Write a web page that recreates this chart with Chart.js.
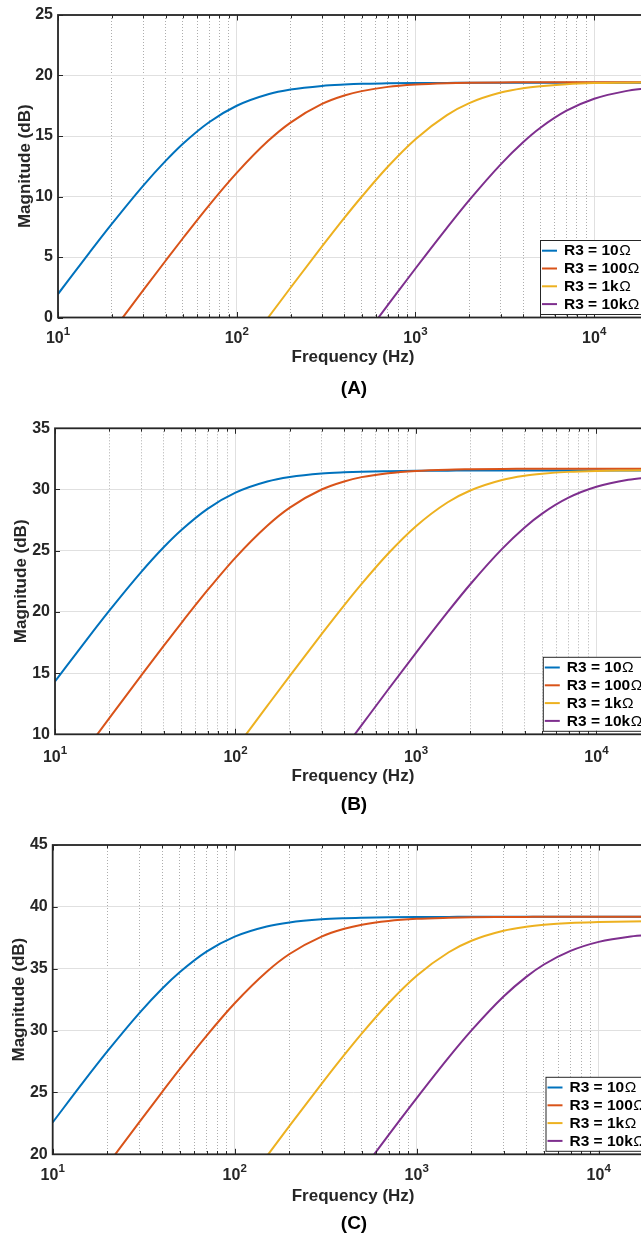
<!DOCTYPE html>
<html>
<head>
<meta charset="utf-8">
<script src="https://cdn.jsdelivr.net/npm/chart.js@4.4.1/dist/chart.umd.min.js"></script>
<style>
  html, body { margin: 0; padding: 0; background: #fff; width: 641px; height: 1238px; overflow: hidden; }
  .panel { position: absolute; left: 0; width: 660px; }
  .panel canvas { display: block; }
</style>
</head>
<body>
<div class="panel" style="top:0px;height:410px"><canvas id="chartA" width="660" height="410"></canvas></div>
<div class="panel" style="top:410px;height:410px"><canvas id="chartB" width="660" height="410"></canvas></div>
<div class="panel" style="top:820px;height:418px"><canvas id="chartC" width="660" height="418"></canvas></div>
<script>
// frequency grid (Hz) shared by every curve
const freqHz = [10, 15, 20, 30, 40, 50, 70, 100, 150, 200, 300, 400, 500, 700,
                1000, 1500, 2000, 3000, 4000, 5000, 7000, 10000, 15000, 20000];

// x ticks: decades get a label and a solid grid line, the rest are dotted
const xDecades = [10, 100, 1000, 10000];
const xMinorTicks = [20, 30, 40, 50, 60, 70, 80, 90, 200, 300, 400, 500, 600, 700, 800, 900,
                     2000, 3000, 4000, 5000, 6000, 7000, 8000, 9000, 20000];

const seriesLabels = ['R3 = 10Ω', 'R3 = 100Ω', 'R3 = 1kΩ', 'R3 = 10kΩ'];
const seriesColors = ['#0072BD', '#D95319', '#EDB120', '#7E2F8E'];

// (A) magnitude in dB
const magA_10 = [1.94, 5.36, 7.73, 10.90, 12.94, 14.36, 16.14, 17.50, 18.45, 18.84, 19.14, 19.25, 19.31, 19.35,
                 19.38, 19.39, 19.40, 19.40, 19.40, 19.40, 19.40, 19.40, 19.40, 19.40];
const magA_100 = [null, null, -1.22, 2.26, 4.69, 6.55, 9.27, 11.95, 14.60, 16.11, 17.65, 18.35, 18.71, 19.06,
                  19.25, 19.36, 19.40, 19.43, 19.44, 19.45, 19.45, 19.45, 19.45, 19.45];
const magA_1k = [null, null, null, null, null, null, null, -3.50, 0.00, 2.46, 5.87, 8.23, 9.98, 12.46,
                 14.74, 16.73, 17.72, 18.59, 18.95, 19.12, 19.28, 19.37, 19.41, 19.43];
const magA_10k = [null, null, null, null, null, null, null, null, null, null, null, null, -1.87, 1.02,
                  4.05, 7.41, 9.70, 12.66, 14.48, 15.68, 17.09, 18.08, 18.71, 18.96];

// (B)
const magB_10 = [14.32, 17.74, 20.10, 23.25, 25.28, 26.67, 28.42, 29.74, 30.65, 31.02, 31.31, 31.41, 31.46, 31.50,
                 31.53, 31.54, 31.55, 31.55, 31.55, 31.55, 31.55, 31.55, 31.55, 31.55];
const magB_100 = [null, 8.84, 11.32, 14.79, 17.22, 19.07, 21.77, 24.44, 27.04, 28.52, 30.00, 30.66, 31.01, 31.33,
                  31.52, 31.62, 31.65, 31.68, 31.69, 31.70, 31.70, 31.70, 31.70, 31.70];
const magB_1k = [null, null, null, null, null, null, null, 8.83, 12.32, 14.78, 18.19, 20.54, 22.29, 24.75,
                 27.00, 28.96, 29.92, 30.78, 31.12, 31.28, 31.44, 31.52, 31.56, 31.58];
const magB_10k = [null, null, null, null, null, null, null, null, null, null, null, 8.83, 10.75, 13.64,
                  16.66, 20.00, 22.26, 25.15, 26.90, 28.03, 29.33, 30.22, 30.79, 31.01];

// (C)
const magC_10 = [22.58, 25.99, 28.33, 31.43, 33.40, 34.73, 36.38, 37.59, 38.41, 38.74, 38.99, 39.08, 39.12, 39.16,
                 39.18, 39.19, 39.20, 39.20, 39.20, 39.20, 39.20, 39.20, 39.20, 39.20];
const magC_100 = [null, null, 19.16, 22.62, 25.05, 26.90, 29.58, 32.21, 34.76, 36.19, 37.60, 38.23, 38.56, 38.86,
                  39.03, 39.12, 39.16, 39.18, 39.19, 39.20, 39.20, 39.20, 39.20, 39.20];
const magC_1k = [null, null, null, null, null, null, null, 16.35, 19.84, 22.30, 25.70, 28.04, 29.78, 32.21,
                 34.43, 36.33, 37.26, 38.07, 38.39, 38.55, 38.70, 38.77, 38.82, 38.83];
const magC_10k = [null, null, null, null, null, null, null, null, null, null, null, null, 18.67, 21.55,
                  24.54, 27.83, 30.01, 32.75, 34.34, 35.34, 36.44, 37.17, 37.61, 37.78];

const yRangeA = [0, 25];
const yRangeB = [10, 35];
const yRangeC = [20, 45];
const captions = ['(A)', '(B)', '(C)'];

const FONT = '"Liberation Sans", Arial, Helvetica, sans-serif';
const INK = '#262626';

// draws the MATLAB style box, inward ticks, 10^n labels, legend and caption
const matlabFrame = {
  id: 'matlabFrame',
  afterDatasetsDraw(chart, args, opts) {
    const ctx = chart.ctx;
    const a = chart.chartArea;
    const xs = chart.scales.x, ys = chart.scales.y;
    ctx.save();

    // tick marks pointing inwards
    ctx.strokeStyle = INK;
    ctx.lineWidth = 1;
    ctx.beginPath();
    xDecades.concat(xMinorTicks).forEach(v => {
      const px = Math.round(xs.getPixelForValue(v)) + 0.5;
      const len = xDecades.includes(v) ? 5.5 : 3.3;
      ctx.moveTo(px, a.bottom); ctx.lineTo(px, a.bottom - len);
      ctx.moveTo(px, a.top); ctx.lineTo(px, a.top + len);
    });
    ys.ticks.forEach(t => {
      const py = Math.round(ys.getPixelForValue(t.value)) + 0.5;
      ctx.moveTo(a.left, py); ctx.lineTo(a.left + 5, py);
      ctx.moveTo(a.right, py); ctx.lineTo(a.right - 5, py);
    });
    ctx.stroke();

    // axes box
    ctx.lineWidth = 1.8;
    ctx.strokeRect(a.left, a.top, a.right - a.left, a.bottom - a.top);

    // decade labels 10^n
    ctx.fillStyle = INK;
    ctx.textBaseline = 'alphabetic';
    ctx.textAlign = 'left';
    xDecades.forEach(v => {
      const px = xs.getPixelForValue(v);
      const exp = String(Math.round(Math.log10(v)));
      ctx.font = 'bold 16px ' + FONT;
      const wb = ctx.measureText('10').width;
      ctx.font = 'bold 11.5px ' + FONT;
      const we = ctx.measureText(exp).width;
      const x0 = px - (wb + we) / 2;
      ctx.font = 'bold 16px ' + FONT;
      ctx.fillText('10', x0, opts.tickBase);
      ctx.font = 'bold 11.5px ' + FONT;
      ctx.fillText(exp, x0 + wb, opts.tickBase - 8.3);
    });

    // legend box in the lower right corner
    const lx = a.right - 108, ly = a.bottom - 77.5;
    ctx.fillStyle = '#fff';
    ctx.fillRect(lx, ly, 112, 74);
    ctx.strokeStyle = INK;
    ctx.lineWidth = 1;
    ctx.strokeRect(lx + 0.5, ly + 0.5, 112, 74);
    chart.data.datasets.forEach((ds, i) => {
      const ry = ly + 10.7 + i * 17.8;
      ctx.strokeStyle = ds.borderColor;
      ctx.lineWidth = 2;
      ctx.beginPath();
      ctx.moveTo(lx + 2, ry); ctx.lineTo(lx + 17, ry);
      ctx.stroke();
      ctx.fillStyle = '#000';
      ctx.textBaseline = 'middle';
      const main = ds.label.replace('Ω', '');
      ctx.font = 'bold 15.5px ' + FONT;
      ctx.fillText(main, lx + 24, ry + 0.5);
      const w = ctx.measureText(main).width;
      ctx.font = '15.5px ' + FONT;
      ctx.fillText('Ω', lx + 24 + w + 0.5, ry + 0.5);
    });

    // panel caption
    ctx.fillStyle = '#000';
    ctx.font = 'bold 19px ' + FONT;
    ctx.textAlign = 'center';
    ctx.textBaseline = 'middle';
    ctx.fillText(opts.caption, opts.captionX, opts.captionY);
    ctx.restore();
  }
};

function isDecade(v) {
  return xDecades.includes(v);
}

function makePanel(canvasId, g, series, yRange, caption) {
  const canvas = document.getElementById(canvasId);
  const W = canvas.width, H = canvas.height;
  const titleHalf = 17 * 1.2 / 2;

  const datasets = series.map((vals, i) => ({
    label: seriesLabels[i],
    data: freqHz.map((f, k) => ({ x: f, y: vals[k] })),
    borderColor: seriesColors[i],
    backgroundColor: seriesColors[i],
    borderWidth: 2,
    pointRadius: 0,
    fill: false,
    cubicInterpolationMode: 'monotone',
    order: 3 - i
  }));

  return new Chart(canvas.getContext('2d'), {
    type: 'line',
    data: { datasets: datasets },
    options: {
      responsive: false,
      animation: false,
      events: [],
      layout: { padding: { top: g.T, right: W - g.R, bottom: H - (g.titleY + titleHalf), left: 0 } },
      scales: {
        x: {
          type: 'logarithmic',
          min: 10,
          max: 20000,
          afterBuildTicks: s => {
            s.ticks = xDecades.concat(xMinorTicks).sort((p, q) => p - q)
              .map(v => ({ value: v, major: isDecade(v) }));
          },
          afterFit: s => { s.height = g.titleY + titleHalf - g.B; },
          ticks: { display: false },
          grid: {
            drawTicks: false,
            lineWidth: 1,
            color: c => (c.tick && !isDecade(c.tick.value)) ? 'rgba(0,0,0,0.32)' : '#e0e0e0'
          },
          border: {
            display: false,
            dash: c => (c.tick && !isDecade(c.tick.value)) ? [1, 2] : []
          },
          title: {
            display: true,
            text: 'Frequency (Hz)',
            color: INK,
            font: { family: FONT, size: 17, weight: 'bold' },
            padding: { top: 0, bottom: 0 }
          }
        },
        y: {
          min: yRange[0],
          max: yRange[1],
          afterFit: s => { s.width = g.L; },
          ticks: {
            stepSize: 5,
            padding: 5,
            color: INK,
            font: { family: FONT, size: 16, weight: 'bold' }
          },
          grid: { drawTicks: false, color: '#e0e0e0', lineWidth: 1 },
          border: { display: false },
          title: {
            display: true,
            text: 'Magnitude (dB)',
            color: INK,
            font: { family: FONT, size: 17, weight: 'bold' },
            padding: { top: g.yTitleX - titleHalf, bottom: 0 }
          }
        }
      },
      plugins: {
        legend: { display: false },
        tooltip: { enabled: false },
        matlabFrame: { caption: caption, captionX: g.captionX, captionY: g.captionY, tickBase: g.tickBase }
      }
    },
    plugins: [matlabFrame]
  });
}

makePanel('chartA',
  { T: 15, B: 317.5, L: 58, R: 648, tickBase: 343.3, titleY: 357.5, yTitleX: 25.8, captionX: 354, captionY: 389 },
  [magA_10, magA_100, magA_1k, magA_10k], yRangeA, captions[0]);

makePanel('chartB',
  { T: 18.3, B: 324.3, L: 55, R: 650.8, tickBase: 352, titleY: 366, yTitleX: 21.7, captionX: 354, captionY: 395 },
  [magB_10, magB_100, magB_1k, magB_10k], yRangeB, captions[1]);

makePanel('chartC',
  { T: 25, B: 334.3, L: 52.7, R: 653.5, tickBase: 360, titleY: 376, yTitleX: 19, captionX: 354, captionY: 403.5 },
  [magC_10, magC_100, magC_1k, magC_10k], yRangeC, captions[2]);
</script>
</body>
</html>
